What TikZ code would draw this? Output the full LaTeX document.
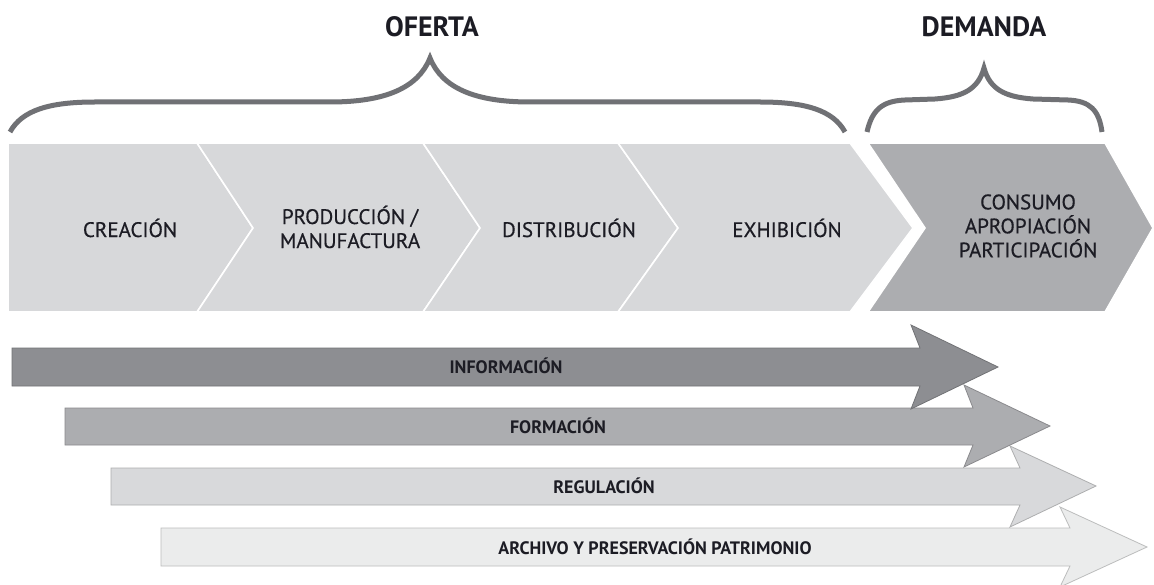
\documentclass[tikz,border=0pt]{standalone}
\usepackage{fontspec}
\setmainfont{PT Sans}
\newfontfamily\stepfont{PT Sans}[FakeBold=0.5]
\definecolor{txt}{HTML}{1C1C24}
\definecolor{chevlight}{HTML}{D7D8DA}
\definecolor{chevdark}{HTML}{ACADB0}
\definecolor{infoc}{HTML}{8D8E92}
\definecolor{formc}{HTML}{ACADB0}
\definecolor{regc}{HTML}{D8D9DB}
\definecolor{archc}{HTML}{EBECEC}
\definecolor{bracec}{HTML}{707175}
\tikzset{
  chev/.style={fill=#1, draw=white, line width=1.6pt, line join=miter},
  bigarrow/.style={fill=#1, draw=#1!80!black, line width=0.8pt, line join=miter},
  bracepath/.style={draw=bracec, line width=5pt, line cap=butt},
  steplabel/.style={text=txt, align=center, font=\stepfont\fontsize{21}{24}\selectfont, inner sep=0pt},
  arrowlabel/.style={text=txt, font=\bfseries\fontsize{18}{20}\selectfont, inner sep=0pt},
  headlabel/.style={text=txt, font=\bfseries\fontsize{28}{30}\selectfont, inner sep=0pt}
}
\begin{document}
\begin{tikzpicture}[x=1pt,y=-1pt]
\useasboundingbox[fill=white] (0,0) rectangle (1154,585);

% headings
\node[headlabel] (oferta) at (432,27) {OFERTA};
\node[headlabel] (demanda) at (984,27) {DEMANDA};

% braces
\draw[bracepath] (10,132) .. controls (22,110) and (50,102) .. (95,102)
  -- (330,102) .. controls (385,102) and (418,88) .. (430,58)
  .. controls (442,88) and (475,102) .. (530,102)
  -- (760,102) .. controls (805,102) and (833,110) .. (845,132);
\draw[bracepath] (867,132) .. controls (872,110) and (882,101) .. (905,100)
  -- (935,99) .. controls (962,97) and (978,90) .. (984,68)
  .. controls (990,90) and (1006,97) .. (1033,99)
  -- (1068,100) .. controls (1090,101) and (1099,110) .. (1102,132);

% chevrons
\path[chev=chevlight] (8,143) -- (197,143) -- (253,228) -- (197,312) -- (8,312) -- cycle;
\path[chev=chevlight] (197,143) -- (423,143) -- (480,228) -- (423,312) -- (197,312) -- (253,228) -- cycle;
\path[chev=chevlight] (423,143) -- (618,143) -- (678,228) -- (618,312) -- (423,312) -- (480,228) -- cycle;
\path[chev=chevlight] (618,143) -- (850,143) -- (913,228) -- (850,312) -- (618,312) -- (678,228) -- cycle;
\path[chev=chevdark] (868,143) -- (1105,143) -- (1153,228) -- (1105,312) -- (868,312) -- (925,228) -- cycle;

\node[steplabel] (creacion) at (130,228) {CREACIÓN};
\node[steplabel] (produccion) at (350,227) {PRODUCCIÓN /\\MANUFACTURA};
\node[steplabel] (distribucion) at (569,228) {DISTRIBUCIÓN};
\node[steplabel] (exhibicion) at (787,228) {EXHIBICIÓN};
\node[steplabel] (consumo) at (1028,226) {CONSUMO\\APROPIACIÓN\\PARTICIPACIÓN};

% arrows (lower ones first)
\path[bigarrow=archc] (161,528) -- (1070,528) -- (1060,507) -- (1147,547) -- (1060,587) -- (1070,566) -- (161,566) -- cycle;
\path[bigarrow=regc] (111,468) -- (1020,468) -- (1010,446) -- (1096,486) -- (1010,527) -- (1020,505) -- (111,505) -- cycle;
\path[bigarrow=formc] (65,408) -- (973,408) -- (964,385) -- (1050,426) -- (964,467) -- (973,445) -- (65,445) -- cycle;
\path[bigarrow=infoc] (12,348) -- (920,348) -- (911,325) -- (998,367) -- (911,409) -- (920,386) -- (12,386) -- cycle;

\node[arrowlabel] (informacion) at (506,366) {INFORMACIÓN};
\node[arrowlabel] (formacion) at (558,426) {FORMACIÓN};
\node[arrowlabel] (regulacion) at (604,486) {REGULACIÓN};
\node[arrowlabel] (archivo) at (655,547) {ARCHIVO Y PRESERVACIÓN PATRIMONIO};
\end{tikzpicture}
\end{document}
